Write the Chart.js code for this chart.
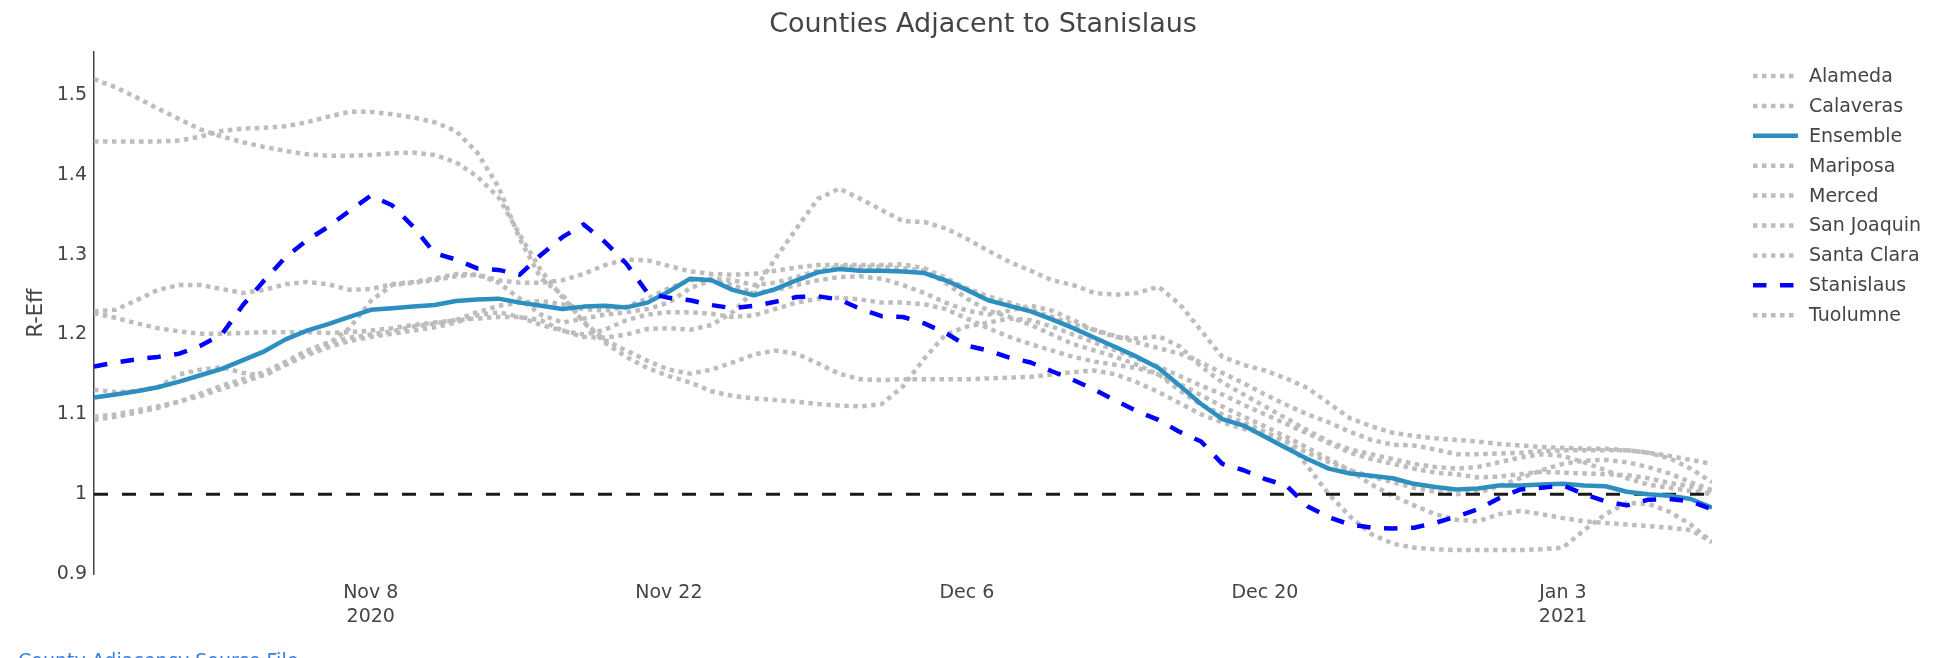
<!DOCTYPE html>
<html>
<head>
<meta charset="utf-8">
<script src="https://cdn.jsdelivr.net/npm/chart.js@4.4.1/dist/chart.umd.min.js"></script>
<style>
html,body{margin:0;padding:0;background:#ffffff;overflow:hidden;}
#wrap{width:1944px;height:658px;position:relative;}
</style>
</head>
<body>
<div id="wrap"><canvas id="c" width="1944" height="658"></canvas></div>
<script>
// ---- Data (days since 2020-10-26) ----
const startDate = '2020-10-26';
const tickDays = [13, 27, 41, 55, 69];
const tickLabels = [['Nov 8', '2020'], ['Nov 22'], ['Dec 6'], ['Dec 20'], ['Jan 3', '2021']];
const yTicks = [0.9, 1, 1.1, 1.2, 1.3, 1.4, 1.5];
const threshold = 1;

const alameda = [
  1.520, 1.510, 1.497, 1.483, 1.470, 1.457, 1.448, 1.441, 1.435, 1.430,
  1.426, 1.424, 1.424, 1.425, 1.427, 1.428, 1.425, 1.416, 1.398, 1.372,
  1.325, 1.280, 1.247, 1.216, 1.193, 1.180, 1.167, 1.156, 1.151, 1.156,
  1.165, 1.175, 1.180, 1.176, 1.164, 1.151, 1.144, 1.143, 1.144, 1.144,
  1.144, 1.144, 1.145, 1.146, 1.147, 1.150, 1.153, 1.155, 1.150, 1.140,
  1.128, 1.114, 1.100, 1.090, 1.082, 1.076, 1.068, 1.035, 1.000, 0.972,
  0.950, 0.938, 0.933, 0.931, 0.930, 0.930, 0.930, 0.930, 0.931, 0.933,
  0.955, 0.975, 0.989, 0.988, 0.978, 0.962, 0.940
];
const calaveras = [
  1.442, 1.442, 1.442, 1.442, 1.443, 1.448, 1.455, 1.458, 1.459, 1.461,
  1.466, 1.473, 1.479, 1.479, 1.476, 1.472, 1.466, 1.455, 1.428, 1.385,
  1.320, 1.270, 1.250, 1.215, 1.190, 1.172, 1.158, 1.148, 1.140, 1.129,
  1.123, 1.120, 1.118, 1.116, 1.113, 1.111, 1.110, 1.113, 1.135, 1.170,
  1.200, 1.210, 1.215, 1.220, 1.218, 1.210, 1.200, 1.190, 1.180, 1.170,
  1.160, 1.148, 1.136, 1.125, 1.112, 1.100, 1.088, 1.076, 1.064, 1.052,
  1.044, 1.038, 1.032, 1.027, 1.025, 1.021, 1.022, 1.025, 1.028, 1.027,
  1.026, 1.025, 1.024, 1.020, 1.014, 1.010, 1.002
];
const ensemble = [
  1.121, 1.125, 1.129, 1.134, 1.141, 1.149, 1.157, 1.168, 1.179, 1.194,
  1.205, 1.213, 1.222, 1.231, 1.233, 1.235, 1.237, 1.242, 1.244, 1.245,
  1.240, 1.236, 1.232, 1.235, 1.236, 1.234, 1.240, 1.254, 1.270, 1.268,
  1.256, 1.249, 1.257, 1.268, 1.278, 1.282, 1.280, 1.280, 1.279, 1.277,
  1.268, 1.256, 1.243, 1.236, 1.229, 1.219, 1.208, 1.196, 1.184, 1.172,
  1.158, 1.136, 1.113, 1.094, 1.086, 1.072, 1.058, 1.044, 1.032, 1.026,
  1.023, 1.020, 1.013, 1.009, 1.006, 1.007, 1.011, 1.011, 1.012, 1.013,
  1.011, 1.010, 1.003, 1.000, 0.998, 0.994, 0.983
];
const mariposa = [
  1.229, 1.231, 1.243, 1.256, 1.262, 1.262, 1.257, 1.252, 1.256, 1.263,
  1.266, 1.263, 1.256, 1.257, 1.263, 1.266, 1.270, 1.276, 1.275, 1.268,
  1.265, 1.265, 1.268, 1.276, 1.287, 1.294, 1.293, 1.286, 1.279, 1.276,
  1.275, 1.276, 1.280, 1.284, 1.287, 1.287, 1.287, 1.287, 1.288, 1.283,
  1.271, 1.258, 1.248, 1.240, 1.231, 1.222, 1.213, 1.206, 1.198, 1.190,
  1.183, 1.176, 1.165, 1.152, 1.139, 1.125, 1.112, 1.100, 1.090, 1.078,
  1.068, 1.062, 1.061, 1.056, 1.050, 1.050, 1.051, 1.052, 1.054, 1.055,
  1.055, 1.055, 1.055, 1.052, 1.045, 1.032, 1.015
];
const merced = [
  1.227, 1.221, 1.214, 1.208, 1.204, 1.201, 1.201, 1.202, 1.203, 1.203,
  1.203, 1.202, 1.203, 1.205, 1.208, 1.212, 1.215, 1.218, 1.220, 1.222,
  1.222, 1.218, 1.205, 1.197, 1.196, 1.200, 1.207, 1.208, 1.206, 1.212,
  1.228, 1.255, 1.295, 1.333, 1.370, 1.383, 1.370, 1.356, 1.342, 1.341,
  1.333, 1.320, 1.305, 1.291, 1.280, 1.268, 1.262, 1.252, 1.250, 1.252,
  1.260, 1.238, 1.205, 1.172, 1.162, 1.155, 1.145, 1.133, 1.114, 1.095,
  1.085, 1.077, 1.073, 1.070, 1.068, 1.066, 1.063, 1.061, 1.059, 1.058,
  1.057, 1.057, 1.055, 1.052, 1.048, 1.043, 1.038
];
const sanJoaquin = [
  1.131, 1.128, 1.129, 1.134, 1.150, 1.156, 1.159, 1.152, 1.148, 1.163,
  1.178, 1.188, 1.208, 1.242, 1.262, 1.265, 1.268, 1.273, 1.275, 1.265,
  1.245, 1.225, 1.215, 1.220, 1.225, 1.228, 1.232, 1.240, 1.258, 1.268,
  1.262, 1.252, 1.256, 1.262, 1.268, 1.272, 1.273, 1.270, 1.262, 1.252,
  1.240, 1.230, 1.225, 1.230, 1.236, 1.230, 1.218, 1.205, 1.197, 1.195,
  1.198, 1.185, 1.160, 1.140, 1.125, 1.110, 1.095, 1.080, 1.066, 1.056,
  1.050, 1.044, 1.038, 1.034, 1.032, 1.034, 1.040, 1.046, 1.050, 1.048,
  1.040, 1.030, 1.020, 1.012, 1.008, 1.004, 1.000
];
const santaClara = [
  1.097, 1.100, 1.105, 1.110, 1.116, 1.123, 1.132, 1.140, 1.150, 1.162,
  1.174, 1.184, 1.192, 1.197, 1.201, 1.205, 1.209, 1.215, 1.224, 1.228,
  1.222, 1.212, 1.205, 1.200, 1.206, 1.218, 1.225, 1.228, 1.228, 1.226,
  1.222, 1.224, 1.232, 1.240, 1.245, 1.246, 1.244, 1.240, 1.240, 1.238,
  1.232, 1.220, 1.208, 1.197, 1.188, 1.180, 1.172, 1.166, 1.162, 1.158,
  1.150, 1.138, 1.124, 1.110, 1.097, 1.085, 1.072, 1.058, 1.044, 1.030,
  1.012, 0.998, 0.986, 0.975, 0.968, 0.966, 0.975, 0.979, 0.975, 0.970,
  0.966, 0.964, 0.962, 0.960, 0.958, 0.955, 0.940
];
const stanislaus = [
  1.160, 1.165, 1.169, 1.172, 1.176, 1.186, 1.200, 1.237, 1.268, 1.297,
  1.318, 1.335, 1.355, 1.374, 1.362, 1.335, 1.302, 1.294, 1.283, 1.281,
  1.275, 1.300, 1.322, 1.338, 1.316, 1.289, 1.252, 1.246, 1.243, 1.237,
  1.233, 1.236, 1.241, 1.247, 1.248, 1.244, 1.232, 1.223, 1.222, 1.214,
  1.202, 1.186, 1.180, 1.171, 1.165, 1.154, 1.143, 1.131, 1.117, 1.104,
  1.093, 1.078, 1.066, 1.038, 1.030, 1.019, 1.011, 0.985, 0.971, 0.962,
  0.958, 0.957, 0.958, 0.964, 0.972, 0.981, 0.995, 1.006, 1.008, 1.011,
  1.000, 0.991, 0.986, 0.993, 0.994, 0.991, 0.981
];
const tuolumne = [
  1.093, 1.097, 1.102, 1.108, 1.116, 1.126, 1.136, 1.144, 1.153, 1.166,
  1.180, 1.190, 1.196, 1.200, 1.204, 1.210, 1.214, 1.218, 1.228, 1.236,
  1.240, 1.242, 1.238, 1.232, 1.230, 1.235, 1.245, 1.258, 1.268, 1.270,
  1.268, 1.262, 1.265, 1.272, 1.280, 1.285, 1.285, 1.285, 1.283, 1.280,
  1.265, 1.245, 1.230, 1.222, 1.212, 1.200, 1.188, 1.180, 1.172, 1.162,
  1.150, 1.130, 1.112, 1.100, 1.090, 1.078, 1.065, 1.052, 1.040, 1.030,
  1.022, 1.015, 1.008, 1.003, 1.000, 1.002, 1.010, 1.020, 1.030, 1.038,
  1.042, 1.043, 1.040, 1.034, 1.026, 1.015, 1.005
];

// ---- Styles ----
const GRAY = '#bdbdbd';
const TEXT = '#444444';
const FONT = 'DejaVu Sans';
const days = ensemble.map((_, i) => i);
const toXY = arr => arr.map((v, i) => ({ x: days[i], y: v }));

function grayDs(label, arr) {
  return { label, data: toXY(arr), borderColor: GRAY, borderWidth: 4.5, borderDash: [4.5, 4.5], order: 3 };
}

const datasets = [
  grayDs('Alameda', alameda),
  grayDs('Calaveras', calaveras),
  { label: 'Ensemble', data: toXY(ensemble), borderColor: 'rgb(44,143,191)', borderWidth: 4.5, borderDash: [], order: 1 },
  grayDs('Mariposa', mariposa),
  grayDs('Merced', merced),
  grayDs('San Joaquin', sanJoaquin),
  grayDs('Santa Clara', santaClara),
  { label: 'Stanislaus', data: toXY(stanislaus), borderColor: '#0000ff', borderWidth: 4.5, borderDash: [13.5, 13.5], order: 0 },
  grayDs('Tuolumne', tuolumne),
  { label: '__ref', data: [{ x: days[0], y: threshold }, { x: days[days.length - 1], y: threshold }],
    borderColor: '#1a1a1a', borderWidth: 3, borderDash: [14, 14], order: 2, hideInLegend: true }
];
datasets.forEach(d => { d.pointRadius = 0; d.fill = false; d.tension = 0; d.borderJoinStyle = 'round'; });

const customLegend = {
  id: 'customLegend',
  afterDraw(chart) {
    const ctx = chart.ctx;
    ctx.save();
    let row = 0;
    chart.data.datasets.forEach(ds => {
      if (ds.hideInLegend) return;
      const y = 76 + row * 29.9;
      ctx.beginPath();
      ctx.setLineDash(ds.borderDash || []);
      ctx.lineWidth = ds.borderWidth;
      ctx.strokeStyle = ds.borderColor;
      ctx.lineCap = 'butt';
      ctx.moveTo(1753, y);
      ctx.lineTo(1798, y);
      ctx.stroke();
      ctx.setLineDash([]);
      ctx.fillStyle = TEXT;
      ctx.font = '19px "' + FONT + '"';
      ctx.textBaseline = 'middle';
      ctx.textAlign = 'left';
      ctx.fillText(ds.label, 1809, y + 1);
      row++;
    });
    // partially visible link text at the bottom edge
    ctx.fillStyle = '#3b7ddd';
    ctx.font = '19px "' + FONT + '"';
    ctx.textBaseline = 'alphabetic';
    ctx.fillText('County Adjacency Source File', 18, 667);
    ctx.restore();
  }
};

Chart.defaults.font.family = FONT;
Chart.defaults.color = TEXT;

new Chart(document.getElementById('c'), {
  type: 'line',
  data: { datasets },
  options: {
    responsive: false,
    animation: false,
    devicePixelRatio: 1,
    events: [],
    layout: { padding: { left: 22, right: 0, top: 0, bottom: 0 } },
    plugins: {
      legend: { display: false },
      tooltip: { enabled: false },
      title: {
        display: true,
        text: 'Counties Adjacent to Stanislaus',
        color: TEXT,
        font: { size: 27, weight: 'normal', family: FONT },
        padding: { top: 9, bottom: 10.6 }
      }
    },
    scales: {
      x: {
        type: 'linear', min: days[0], max: days[days.length - 1],
        afterBuildTicks: s => { s.ticks = tickDays.map(v => ({ value: v })); },
        afterFit: s => { s.height = 84; },
        grid: { display: false, drawTicks: false },
        border: { display: false },
        ticks: {
          autoSkip: false, maxRotation: 0, padding: 6.5, color: TEXT,
          font: { size: 19, lineHeight: 1.27 },
          callback: v => { const i = tickDays.indexOf(v); return i >= 0 ? tickLabels[i] : ''; }
        }
      },
      y: {
        type: 'linear', min: 0.9, max: 1.554,
        afterBuildTicks: s => { s.ticks = yTicks.map(v => ({ value: v })); },
        afterFit: s => { s.width = 72; },
        grid: { display: false, drawTicks: false },
        border: { display: true, color: TEXT, width: 1.5 },
        ticks: { padding: 7, color: TEXT, font: { size: 19 }, callback: v => String(+Number(v).toFixed(2)) },
        title: { display: true, text: 'R-Eff', color: TEXT, font: { size: 21 }, padding: { top: 2, bottom: 0 } }
      },
      yRight: {
        type: 'linear', position: 'right', display: true,
        afterFit: s => { s.width = 232; },
        grid: { display: false, drawTicks: false },
        border: { display: false },
        ticks: { display: false }
      }
    }
  },
  plugins: [customLegend]
});
</script>
</body>
</html>
